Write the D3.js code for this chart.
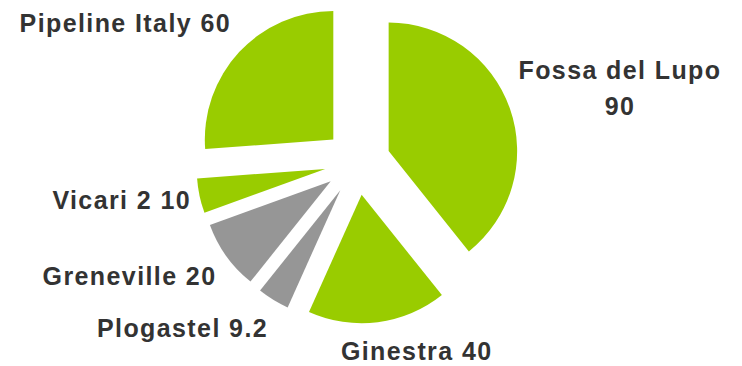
<!DOCTYPE html>
<html>
<head>
<meta charset="utf-8">
<script src="https://cdnjs.cloudflare.com/ajax/libs/d3/7.8.5/d3.min.js"></script>
<style>
	body { margin: 0; background: #fff; }
	.label { font-family: "Liberation Sans", Arial, sans-serif; font-weight: bold; font-size: 25px; fill: #333; letter-spacing: 1.4px; }
</style>
</head>
<body>
<div id="chart"></div>
<script>
// the data
var sites = ["Fossa del Lupo", "Ginestra", "Plogastel", "Greneville", "Vicari 2", "Pipeline Italy"];
var capacity = [90, 40, 9.2, 20, 10, 60];
var valueText = ["90", "40", "9.2", "20", "10", "60"];
var group = ["green", "green", "grey", "grey", "green", "green"];

;(function(){

	var w = 742;
	var h = 366;

	// pie centre, radius and how far every slice is pulled out
	var cx = 357.5, cy = 162;
	var r = 128.5;
	var explode = 33;

	// label anchor relative to the pie centre (x = middle of text, y = baseline)
	var labelOffsets = [[262.5, -82.7], [59.2, 198], [-175, 174.7], [-228, 123], [-235.8, 47.3], [-232.2, -130.3]];
	// Fossa del Lupo is split on two lines
	var lineGap = 35.7;

	var colour = d3.scaleOrdinal()
		.domain(["green", "grey"])
		.range(["#99cc00", "#969696"]);

	var dataset = sites.map(function(s, i){
		return { name: s, value: capacity[i], text: valueText[i], group: group[i] };
	});

	var pie = d3.pie()
		.sort(null)
		.value(function(d){ return d.value; });

	var arc = d3.arc()
		.innerRadius(0)
		.outerRadius(r);

	var svg = d3.select("#chart")
		.append("svg")
		.attr("width", w)
		.attr("height", h);

	var g = svg.append("g")
		.attr("transform", "translate(" + cx + "," + cy + ")");

	var slices = pie(dataset);

	// draws the slices, each one pushed out along its middle angle
	g.selectAll("path")
		.data(slices)
		.enter().append("path")
		.attr("d", arc)
		.attr("fill", function(d){ return colour(d.data.group); })
		.attr("transform", function(d){
			var a = (d.startAngle + d.endAngle) / 2;
			return "translate(" + (explode * Math.sin(a)) + "," + (-explode * Math.cos(a)) + ")";
		});

	// labels
	var labels = g.selectAll("text")
		.data(slices)
		.enter().append("text")
		.attr("class", "label")
		.attr("text-anchor", "middle")
		.attr("x", function(d, i){ return labelOffsets[i][0]; })
		.attr("y", function(d, i){ return labelOffsets[i][1]; });

	labels.each(function(d, i){
		var t = d3.select(this);
		if (i === 0) {
			t.append("tspan").attr("x", labelOffsets[i][0]).text(d.data.name);
			t.append("tspan").attr("x", labelOffsets[i][0]).attr("dy", lineGap).text(d.data.text);
		} else {
			t.text(d.data.name + " " + d.data.text);
		}
	});
})();
</script>
</body>
</html>
